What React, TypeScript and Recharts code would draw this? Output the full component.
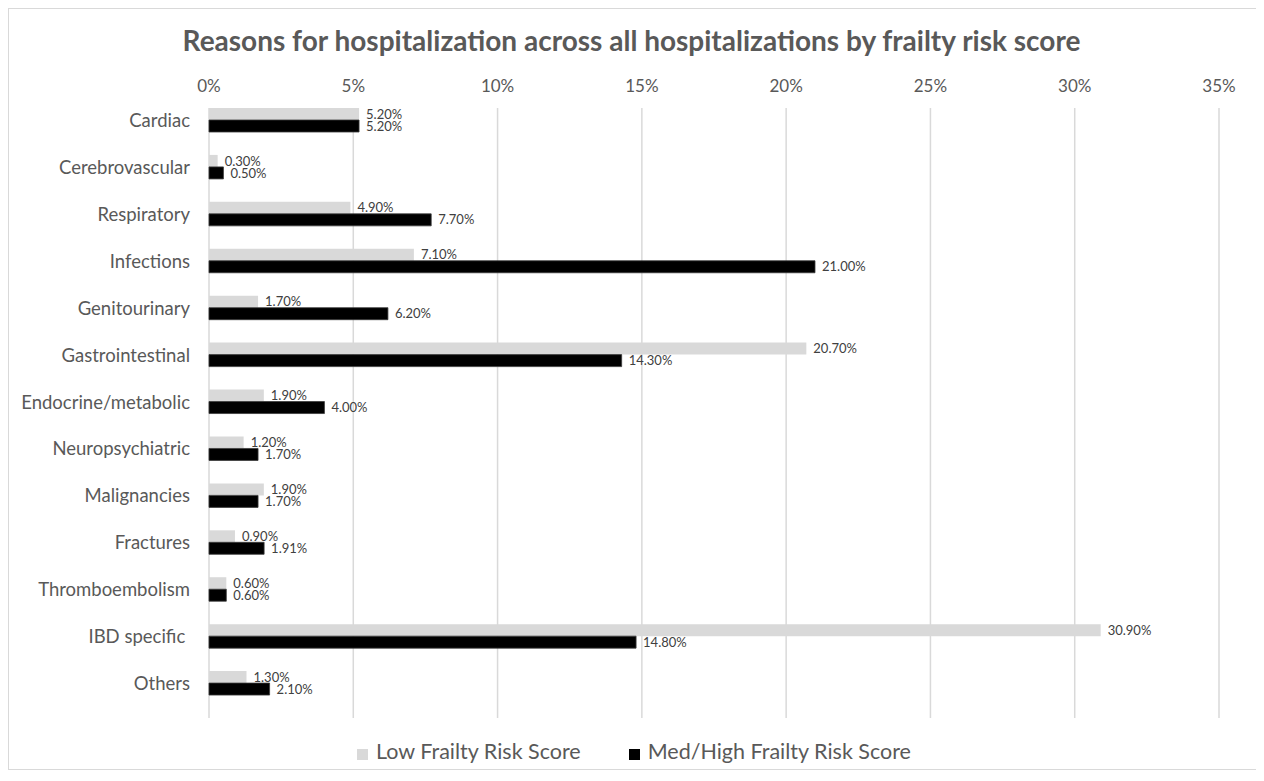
import React from "react";
import {
  BarChart,
  Bar,
  XAxis,
  YAxis,
  CartesianGrid,
  Legend,
  LabelList,
} from "recharts";

// Hospitalization reasons (category axis, top to bottom)
const categories = [
  "Cardiac",
  "Cerebrovascular",
  "Respiratory",
  "Infections",
  "Genitourinary",
  "Gastrointestinal",
  "Endocrine/metabolic",
  "Neuropsychiatric",
  "Malignancies",
  "Fractures",
  "Thromboembolism",
  "IBD specific\u00A0",
  "Others",
];

// Share of hospitalizations (%) per frailty risk group
const lowFrailty = [5.2, 0.3, 4.9, 7.1, 1.7, 20.7, 1.9, 1.2, 1.9, 0.9, 0.6, 30.9, 1.3];
const medHighFrailty = [5.2, 0.5, 7.7, 21.0, 6.2, 14.3, 4.0, 1.7, 1.7, 1.91, 0.6, 14.8, 2.1];

const xTicks = [0, 5, 10, 15, 20, 25, 30, 35];

const data = categories.map((name, i) => ({
  name,
  low: lowFrailty[i],
  med: medHighFrailty[i],
}));

const FONT = "Lato, 'Open Sans', sans-serif";
const TEXT = "#595959";

const fmtPct = (v: number) => `${Number(v).toFixed(2)}%`;

const CHART_W = 1240;
const CHART_H = 760;

export default function App() {
  return (
    <div style={{ position: "relative", width: 1248, height: 762 }}>
      {/* chart frame: top, left and bottom edges */}
      <div
        style={{
          position: "absolute",
          left: 0,
          top: 0,
          width: 1256,
          height: 1,
          background: "#d9d9d9",
        }}
      />
      <div
        style={{
          position: "absolute",
          left: 0,
          top: 0,
          width: 1,
          height: 762,
          background: "#d9d9d9",
        }}
      />
      <div
        style={{
          position: "absolute",
          left: 0,
          top: 761,
          width: 1256,
          height: 1,
          background: "#d9d9d9",
        }}
      />
      <div
        style={{
          position: "absolute",
          left: 1,
          top: 15,
          width: 1245,
          lineHeight: "34px",
          textAlign: "center",
          fontSize: 28,
          fontWeight: 700,
          color: TEXT,
          fontFamily: FONT,
        }}
      >
        Reasons for hospitalization across all hospitalizations by frailty risk score
      </div>
      <div style={{ position: "absolute", left: 1, top: 1 }}>
        <BarChart
          width={CHART_W}
          height={CHART_H}
          data={data}
          layout="vertical"
          margin={{ top: 69, right: 30, bottom: 51, left: 0 }}
          barGap={0}
          barSize={12}
        >
          <CartesianGrid horizontal={false} stroke="#d9d9d9" strokeWidth={1.5} />
          <XAxis
            type="number"
            orientation="top"
            domain={[0, 35]}
            ticks={xTicks}
            tickFormatter={(v) => `${v}%`}
            axisLine={false}
            tickLine={false}
            tickSize={0}
            tickMargin={16}
            height={30}
            tick={{ fill: TEXT, fontSize: 17, fontFamily: FONT }}
          />
          <YAxis
            type="category"
            dataKey="name"
            width={200}
            axisLine={false}
            tickLine={false}
            tickSize={0}
            tickMargin={19}
            padding={{ top: -11, bottom: 11 }}
            interval={0}
            tick={{ fill: TEXT, fontSize: 18.5, fontFamily: FONT }}
          />
          <Legend
            verticalAlign="middle"
            align="center"
            iconType="square"
            iconSize={11}
            wrapperStyle={{
              top: 729,
              left: 10,
              width: CHART_W,
              fontFamily: FONT,
            }}
            formatter={(value, _entry, index) => (
              <span
                style={{
                  color: TEXT,
                  fontSize: 21.5,
                  paddingLeft: 4,
                  marginRight: index === 0 ? 38 : 0,
                  fontFamily: FONT,
                }}
              >
                {value}
              </span>
            )}
          />
          <Bar
            dataKey="low"
            name="Low Frailty Risk Score"
            fill="#d9d9d9"
            isAnimationActive={false}
          >
            <LabelList
              dataKey="low"
              position="right"
              offset={7}
              formatter={fmtPct}
              style={{ fill: "#404040", fontSize: 13, fontFamily: FONT }}
            />
          </Bar>
          <Bar
            dataKey="med"
            name="Med/High Frailty Risk Score"
            fill="#000000"
            stroke="#3a3a3a"
            strokeWidth={0.8}
            isAnimationActive={false}
          >
            <LabelList
              dataKey="med"
              position="right"
              offset={7}
              formatter={fmtPct}
              style={{ fill: "#404040", fontSize: 13, fontFamily: FONT }}
            />
          </Bar>
        </BarChart>
      </div>
    </div>
  );
}
